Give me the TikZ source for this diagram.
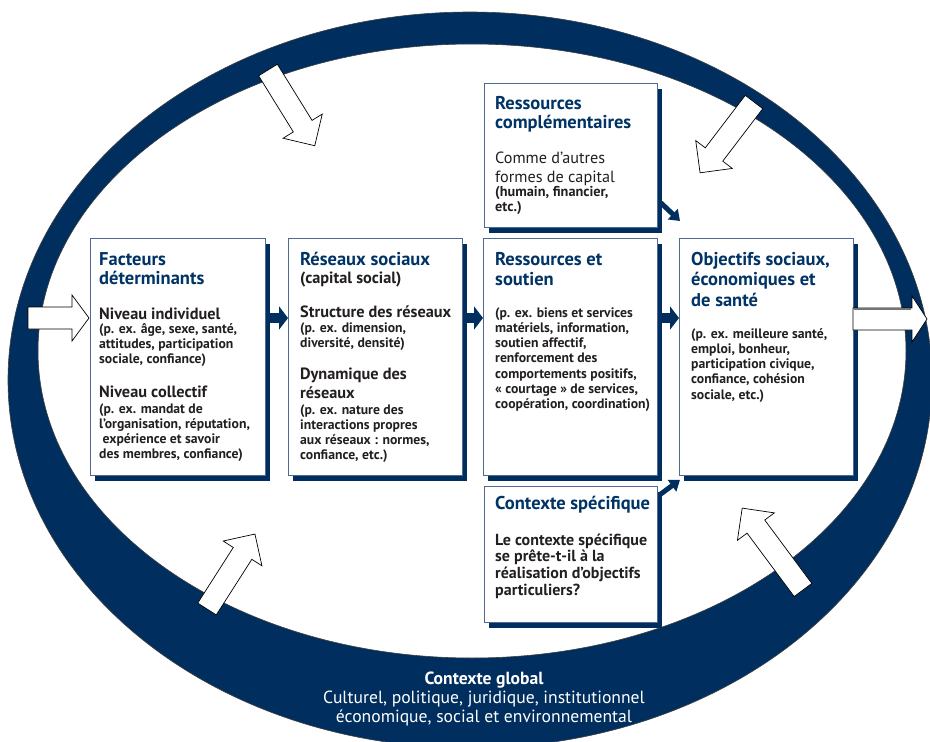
\documentclass[tikz,border=0pt]{standalone}
\usepackage{fontspec}
\setmainfont{PT Sans}
\usetikzlibrary{calc,shadows,arrows.meta}

\definecolor{navy}{RGB}{0,46,94}
\definecolor{titleblue}{RGB}{0,51,102}
\definecolor{bodyink}{RGB}{35,31,32}
\definecolor{boxedge}{RGB}{80,105,145}

\tikzset{
  ringedge/.style={draw=black!75, line width=0.6pt},
  panel/.style={draw=boxedge, line width=0.8pt, fill=white, inner sep=0pt,
    drop shadow={shadow xshift=5pt, shadow yshift=-6pt, fill=navy, opacity=1}},
  ttl/.style={font=\bfseries\fontsize{18.5}{20}\selectfont, text=titleblue, inner sep=0pt, anchor=base west},
  sub/.style={font=\bfseries\fontsize{16.3}{18}\selectfont, text=bodyink, inner sep=0pt, anchor=base west},
  body/.style={font=\bfseries\fontsize{13.7}{15}\selectfont, text=bodyink, inner sep=0pt, anchor=base west},
  small/.style={font=\bfseries\fontsize{14.3}{15}\selectfont, text=bodyink, inner sep=0pt, anchor=base west},
  plain/.style={font=\fontsize{16.2}{18}\selectfont, text=bodyink, inner sep=0pt, anchor=base west},
  question/.style={font=\bfseries\fontsize{16}{18}\selectfont, text=bodyink, inner sep=0pt, anchor=base west},
  globaltxt/.style={font=\fontsize{17.6}{19}\selectfont, text=white, inner sep=0pt, anchor=base},
  flow/.style={draw=navy, line width=10pt, -{Triangle[width=23pt,length=9pt]}},
  hollow/.style={draw=black, line width=0.7pt, fill=white, line join=miter},
}

% hollow block arrow: tail point, direction angle, total length, head length
\newcommand\hollowarrow[4]{%
  \draw[hollow, shift={#1}, rotate=#2]
    (0,-11) -- ({#3-#4},-11) -- ({#3-#4},-23) -- (#3,0) -- ({#3-#4},23)
    -- ({#3-#4},11) -- (0,11) -- cycle;}

\begin{document}
\begin{tikzpicture}[x=1pt,y=-1pt]
\useasboundingbox[fill=white] (0,0) rectangle (930,742);

% outer context ring
\begin{scope}
  \clip (0,0) rectangle (930,742);
  \fill[navy, even odd rule]
    (470,380) ellipse [x radius=462, y radius=368]
    (472,351) ellipse [x radius=434, y radius=307];
  \draw[ringedge] (470,380) ellipse [x radius=462, y radius=368];
  \draw[ringedge] (472,351) ellipse [x radius=434, y radius=307];
\end{scope}

% panels
\node[panel, minimum width=175pt, minimum height=237pt, anchor=north west] (b1) at (90,238) {};
\node[panel, minimum width=174pt, minimum height=237pt, anchor=north west] (b2) at (288,238) {};
\node[panel, minimum width=174pt, minimum height=237pt, anchor=north west] (b3) at (483,238) {};
\node[panel, minimum width=174pt, minimum height=237pt, anchor=north west] (b4) at (679,238) {};
\node[panel, minimum width=173pt, minimum height=144pt, anchor=north west] (bt) at (484,83) {};
\node[panel, minimum width=173pt, minimum height=136pt, anchor=north west] (bb) at (484,486) {};

% flow connectors
\draw[flow] ($(b1.north east)+(0,80)$) -- ($(b2.north west)+(0,80)$);
\draw[flow] ($(b2.north east)+(0,80)$) -- ($(b3.north west)+(0,80)$);
\draw[flow] ($(b3.north east)+(0,80)$) -- ($(b4.north west)+(0,80)$);
\draw[flow, line width=5pt, -{Triangle[width=14pt,length=10pt]}]
  ($(bt.south east)+(3,-25)$) -- ($(b4.north west)+(1,-17)$);
\draw[flow, line width=5pt, -{Triangle[width=14pt,length=10pt]}]
  ($(bb.north east)+(3,8)$) -- ($(b4.south west)+(1,4)$);

% hollow arrows from the global context
\hollowarrow{(28,318)}{0}{61}{17}
\hollowarrow{(853,319)}{0}{74}{15}
\draw[black!55, line width=1.6pt] (854,309) -- (911,309);
\hollowarrow{(268,70)}{-58.3}{89}{23}
\hollowarrow{(754,102)}{-127.3}{89}{23}
\hollowarrow{(207,609)}{57.4}{89}{23}
\hollowarrow{(803,590)}{126.6}{102}{23}

% panel 1
\node[ttl] (t1a) at (99,265) {Facteurs};
\node[ttl] (t1b) at (99,284) {déterminants};
\node[sub] (s1a) at (99,319) {Niveau individuel};
\foreach \t [count=\i from 0] in {{(p. ex. âge, sexe, santé,},{attitudes, participation},{sociale, confiance)}}
  \node[body] (p1a\i) at (99,{333+15.3*\i}) {\t};
\node[sub] (s1b) at (99,397) {Niveau collectif};
\foreach \t [count=\i from 0] in {{(p. ex. mandat de},{l’organisation, réputation,},{\ expérience et savoir},{des membres, confiance)}}
  \node[body] (p1b\i) at (99,{413+15*\i}) {\t};

% panel 2
\node[ttl] (t2a) at (300,265) {Réseaux sociaux};
\node[sub] (t2b) at (300,283) {(capital social)};
\node[sub] (s2a) at (300,317) {Structure des réseaux};
\foreach \t [count=\i from 0] in {{(p. ex. dimension,},{diversité, densité)}}
  \node[body] (p2a\i) at (300,{332+15.3*\i}) {\t};
\node[sub] (s2b) at (300,379) {Dynamique des};
\node[sub] (s2c) at (300,398) {réseaux};
\foreach \t [count=\i from 0] in {{(p. ex. nature des},{interactions propres},{aux réseaux : normes,},{confiance, etc.)}}
  \node[body] (p2b\i) at (300,{414+15.3*\i}) {\t};

% panel 3
\node[ttl] (t3a) at (495,265) {Ressources et};
\node[ttl] (t3b) at (495,285) {soutien};
\foreach \t [count=\i from 0] in {{(p. ex. biens et services},{matériels, information,},{soutien affectif,},{renforcement des},{comportements positifs,},{« courtage » de services,},{coopération, coordination)}}
  \node[body] (p3\i) at (495,{317+15.3*\i}) {\t};

% panel 4
\node[ttl] (t4a) at (691,265) {Objectifs sociaux,};
\node[ttl] (t4b) at (691,285) {économiques et};
\node[ttl] (t4c) at (691,306) {de santé};
\foreach \t [count=\i from 0] in {{(p. ex. meilleure santé,},{emploi, bonheur,},{participation civique,},{confiance, cohésion},{sociale, etc.)}}
  \node[body] (p4\i) at (691,{338+15.3*\i}) {\t};

% upper panel
\node[ttl] (tta) at (495,109) {Ressources};
\node[ttl] (ttb) at (495,128) {complémentaires};
\node[plain] (pta) at (495,163) {Comme d’autres};
\node[plain] (ptb) at (495,182) {formes de capital};
\node[small] (ptc) at (495,196) {(humain, financier,};
\node[small] (ptd) at (495,211) {etc.)};

% lower panel
\node[ttl] (tba) at (495,509) {Contexte spécifique};
\foreach \t [count=\i from 0] in {{Le contexte spécifique},{se prête-t-il à la},{réalisation d’objectifs},{particuliers?}}
  \node[question] (pb\i) at (495,{545+16.7*\i}) {\t};

% global context label
\node[globaltxt, font=\bfseries\fontsize{17.6}{19}\selectfont] (g0) at (484,684) {Contexte global};
\node[globaltxt] (g1) at (484,703) {Culturel, politique, juridique, institutionnel};
\node[globaltxt] (g2) at (484,722) {économique, social et environnemental};
\end{tikzpicture}
\end{document}
